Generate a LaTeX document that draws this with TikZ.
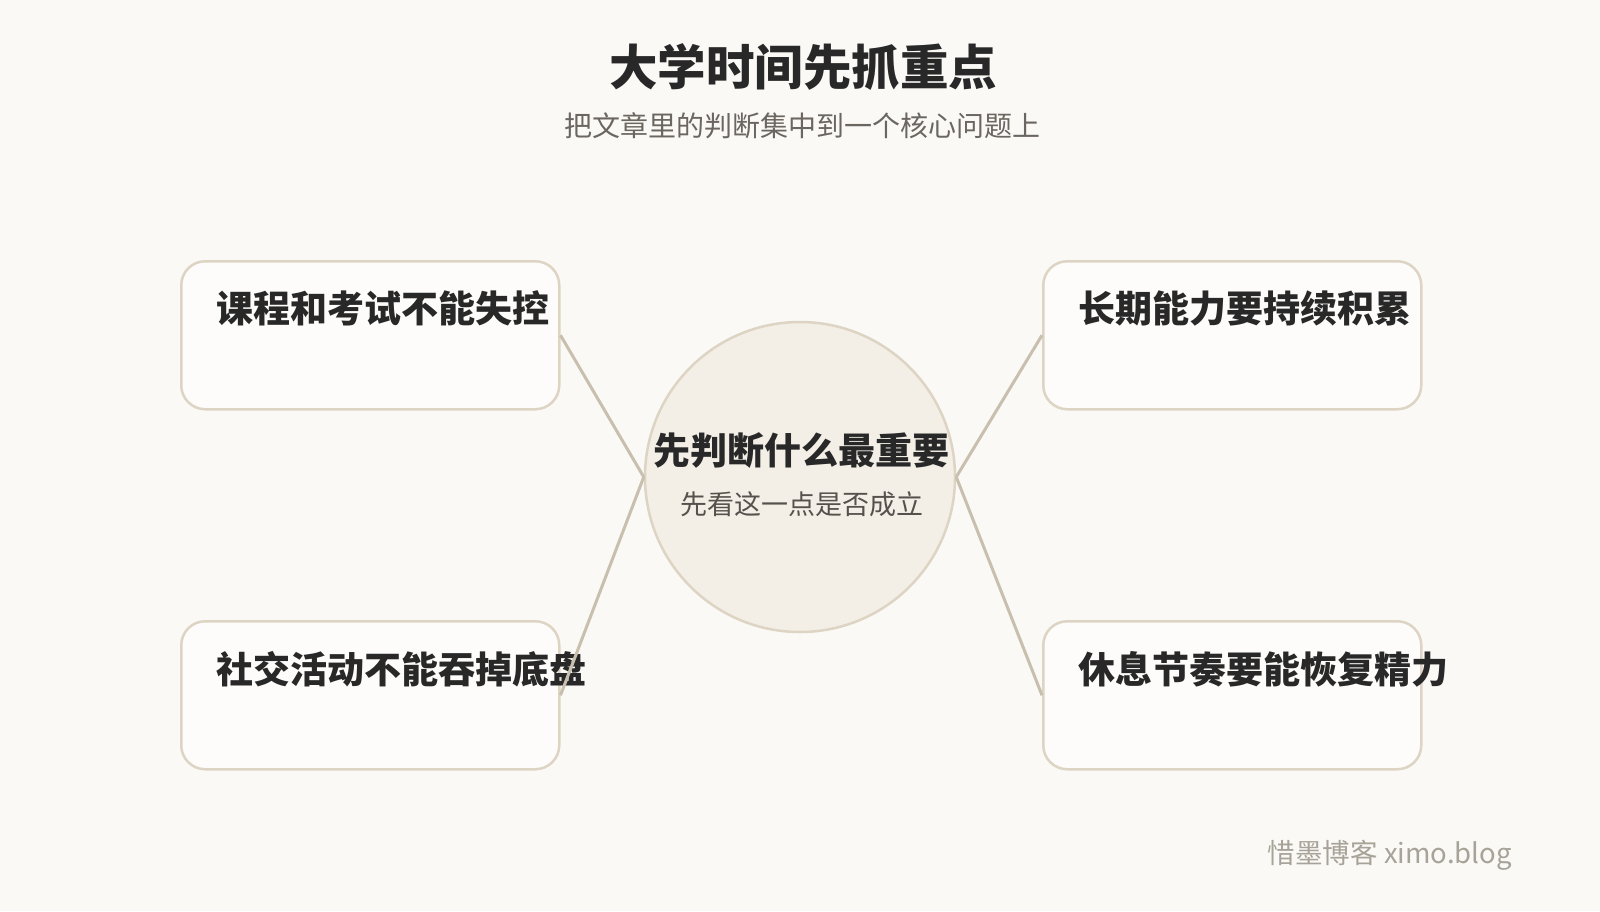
\documentclass[tikz,border=0pt]{standalone}
\usepackage{fontspec}
\newfontfamily\cjk{Noto Sans CJK SC}
\definecolor{bgc}{HTML}{FAF9F6}
\definecolor{boxfill}{HTML}{FDFCFA}
\definecolor{boxline}{HTML}{DDD4C4}
\definecolor{circfill}{HTML}{F3EFE7}
\definecolor{conn}{HTML}{C9BFAE}
\definecolor{ink}{HTML}{282828}
\definecolor{subink}{HTML}{6B665F}
\definecolor{circsub}{HTML}{55524D}
\definecolor{footink}{HTML}{A8A398}
\tikzset{
  card/.style={draw=boxline, line width=2.5pt, fill=boxfill, rounded corners=24pt,
    minimum width=378pt, minimum height=148pt, inner sep=0pt, anchor=north west},
  cardtext/.style={anchor=west, inner sep=0pt, text=ink, font=\cjk\bfseries\fontsize{37}{40}\selectfont},
  hub/.style={circle, draw=boxline, line width=2.5pt, fill=circfill, minimum size=310pt, inner sep=0pt},
  link/.style={draw=conn, line width=3pt},
}
\begin{document}
\begin{tikzpicture}[x=1pt,y=-1pt]
\fill[bgc] (0,0) rectangle (1600,911);
\useasboundingbox (0,0) rectangle (1600,911);
% title
\node[inner sep=0pt, text=ink, font=\cjk\bfseries\fontsize{48.5}{52}\selectfont] (title) at (803,67) {大学时间先抓重点};
\node[inner sep=0pt, text=subink, font=\cjk\fontsize{28}{30}\selectfont] (subtitle) at (802,126) {把文章里的判断集中到一个核心问题上};
% cards
\node[card] (tl) at (180,260) {};
\node[card] (tr) at (1042,260) {};
\node[card] (bl) at (180,620) {};
\node[card] (br) at (1042,620) {};
\node[cardtext] (tlt) at (216,308) {课程和考试不能失控};
\node[cardtext] (trt) at (1078,308) {长期能力要持续积累};
\node[cardtext] (blt) at (216,669) {社交活动不能吞掉底盘};
\node[cardtext] (brt) at (1078,669) {休息节奏要能恢复精力};
% hub
\node[hub] (hub) at (800,477) {};
\node[inner sep=0pt, text=ink, font=\cjk\bfseries\fontsize{37}{40}\selectfont] (hubt) at (801,450) {先判断什么最重要};
\node[inner sep=0pt, text=circsub, font=\cjk\fontsize{27}{30}\selectfont] (hubs) at (802,504) {先看这一点是否成立};
% connectors
\draw[link] (hub.west) -- (tl.east);
\draw[link] (hub.west) -- (bl.east);
\draw[link] (hub.east) -- (tr.west);
\draw[link] (hub.east) -- (br.west);
% footer
\node[anchor=east, inner sep=0pt, text=footink, font=\cjk\fontsize{27.5}{30}\selectfont] (foot) at (1512,855) {惜墨博客 ximo.blog};
\end{tikzpicture}
\end{document}
